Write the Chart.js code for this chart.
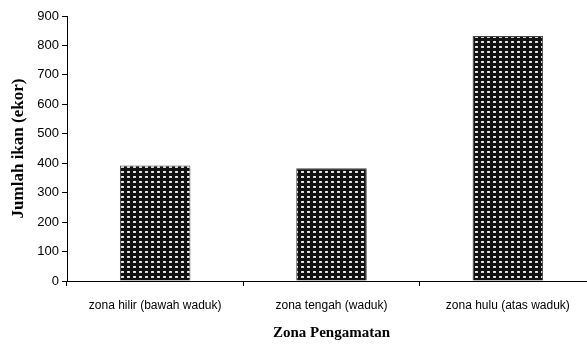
<!DOCTYPE html>
<html>
<head>
<meta charset="utf-8">
<script src="https://cdn.jsdelivr.net/npm/chart.js@4/dist/chart.umd.min.js"></script>
<style>
  html, body { margin: 0; padding: 0; background: #fff; overflow: hidden; }
  #wrap { width: 600px; height: 349px; position: relative; }
</style>
</head>
<body>
<div id="wrap"><canvas id="c" width="600" height="349"></canvas></div>
<script>
// Fish counts per observation zone
const categories = ['zona hilir (bawah waduk)', 'zona tengah (waduk)', 'zona hulu (atas waduk)'];
const jumlahIkan = [392, 383, 832];
const yTicks = [0, 100, 200, 300, 400, 500, 600, 700, 800, 900];

// Dotted fill: dark ground with light dots on a small repeating tile
function dotPattern() {
  const tile = document.createElement('canvas');
  tile.width = 6; tile.height = 5;
  const t = tile.getContext('2d');
  t.fillStyle = '#111';
  t.fillRect(0, 0, 6, 5);
  t.fillStyle = '#d8d8d8';
  t.fillRect(1, 1, 3, 2);
  t.fillStyle = '#ffffff';
  t.fillRect(2, 1, 1, 1);
  return document.getElementById('c').getContext('2d').createPattern(tile, 'repeat');
}

const sans = "'Liberation Sans', Arial, sans-serif";
const serif = "'Liberation Serif', 'Times New Roman', serif";

new Chart(document.getElementById('c'), {
  type: 'bar',
  data: {
    labels: categories,
    datasets: [{
      data: jumlahIkan,
      backgroundColor: dotPattern(),
      borderColor: '#444',
      borderWidth: 1,
      categoryPercentage: 1.0,
      barPercentage: 0.40
    }]
  },
  options: {
    responsive: false,
    animation: false,
    layout: { padding: { top: 16, right: 4, left: 0, bottom: 0 } },
    plugins: { legend: { display: false }, tooltip: { enabled: false } },
    scales: {
      x: {
        grid: { drawOnChartArea: false, drawTicks: true, tickLength: 5, color: '#000', offset: true },
        border: { color: '#000', width: 1 },
        ticks: { color: '#000', font: { family: sans, size: 12 }, padding: 12, maxRotation: 0, autoSkip: false },
        title: { display: true, text: 'Zona Pengamatan', color: '#000',
                 font: { family: serif, size: 15, weight: 'bold' }, padding: { top: 0, bottom: 7 } },
        afterFit: (s) => { s.height = 68; }
      },
      y: {
        min: 0, max: 900,
        afterBuildTicks: (s) => { s.ticks = yTicks.map(v => ({ value: v })); },
        grid: { drawOnChartArea: false, drawTicks: true, tickLength: 5, color: '#000' },
        border: { color: '#000', width: 1 },
        ticks: { color: '#000', font: { family: sans, size: 13 }, padding: 3 },
        title: { display: true, text: 'Jumlah ikan (ekor)', color: '#000',
                 font: { family: serif, size: 17, weight: 'bold' }, padding: { top: 8, bottom: 0 } },
        afterFit: (s) => { s.width = 67; }
      }
    }
  }
});
</script>
</body>
</html>
